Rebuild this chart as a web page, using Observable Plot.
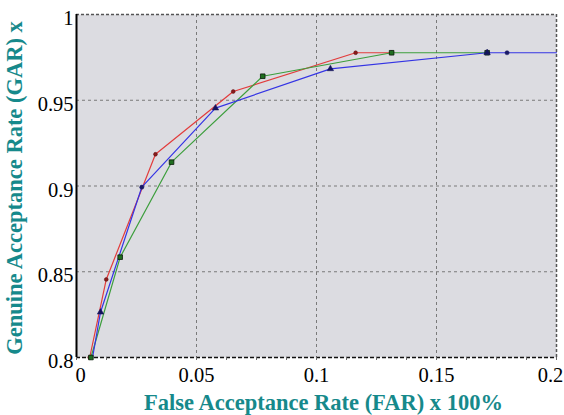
<!DOCTYPE html>
<html>
<head>
<meta charset="utf-8">
<script src="https://cdn.jsdelivr.net/npm/d3@7"></script>
<script src="https://cdn.jsdelivr.net/npm/@observablehq/plot@0.6"></script>
<style>
  html, body { margin: 0; padding: 0; background: #fff; }
</style>
</head>
<body>
<div id="chart"></div>
<script>
// ---- data ----
const xTicks = [0, 0.05, 0.1, 0.15, 0.2];
const yTicks = [0.8, 0.85, 0.9, 0.95, 1];
const xTitle = "False Acceptance Rate (FAR) x 100%";
const yTitle = "Genuine Acceptance Rate (GAR) x";

const redX = [0.0055, 0.0124, 0.0329, 0.0653, 0.1163, 0.1313];
const redY = [0.800, 0.8455, 0.9185, 0.9551, 0.9777, 0.9777];

const greenX = [0.006, 0.0182, 0.0396, 0.0776, 0.1313, 0.1711];
const greenY = [0.800, 0.8585, 0.9139, 0.9640, 0.9777, 0.9777];

const blueX = [0.0067, 0.0100, 0.0272, 0.0579, 0.1058, 0.1711, 0.1794, 0.2];
const blueY = [0.800, 0.8264, 0.8993, 0.9454, 0.9683, 0.9777, 0.9777, 0.9777];
const blueTriangleX = [0.0100, 0.0579, 0.1058, 0.1711];
const blueTriangleY = [0.8264, 0.9454, 0.9683, 0.9777];
const blueDotX = [0.0272, 0.1794];
const blueDotY = [0.8993, 0.9777];

const toPts = (xs, ys) => xs.map((x, i) => ({x, y: ys[i]}));
const red = toPts(redX, redY);
const green = toPts(greenX, greenY);
const blue = toPts(blueX, blueY);
const blueTri = toPts(blueTriangleX, blueTriangleY);
const blueDot = toPts(blueDotX, blueDotY);

const fmt = d => String(+d.toFixed(2));
const teal = "#16898b";
const serif = "Liberation Serif";
const xTickStyle = {tickSize: 0, tickPadding: 10, tickFormat: fmt, label: null, fill: "#000", fontSize: 20.5, fontFamily: serif};

const chart = Plot.plot({
  width: 564,
  height: 415,
  marginLeft: 76,
  marginRight: 8,
  marginTop: 14,
  marginBottom: 58,
  style: {fontFamily: serif, fontSize: "20px", background: "#fff", color: "#000"},
  x: {domain: [0, 0.2], axis: null},
  y: {domain: [0.8, 1], axis: null},
  marks: [
    Plot.frame({fill: "#dcdce1", stroke: null}),
    Plot.gridX(xTicks.slice(1, -1), {stroke: "#7a7a7a", strokeOpacity: 1, strokeDasharray: "3,3", strokeWidth: 1}),
    Plot.gridY(yTicks.slice(1, -1), {stroke: "#7a7a7a", strokeOpacity: 1, strokeDasharray: "3,3", strokeWidth: 1}),
    Plot.ruleY([1], {stroke: "#555", strokeDasharray: "3,2", strokeWidth: 1.5}),
    Plot.ruleX([0.2], {stroke: "#555", strokeDasharray: "3,2", strokeWidth: 1.5}),
    Plot.ruleY([0.8], {stroke: "#111", strokeDasharray: "4,2", strokeWidth: 1.6}),
    Plot.axisX({ticks: d3.range(0, 0.2001, 0.0125), tickSize: 3, text: null, label: null, stroke: "#666"}),
    Plot.ruleX([0], {stroke: "#000", strokeWidth: 2}),

    Plot.line(red, {x: "x", y: "y", stroke: "#e23c3c", strokeWidth: 1.2}),
    Plot.line(green, {x: "x", y: "y", stroke: "#3c9e3c", strokeWidth: 1.2}),
    Plot.line(blue, {x: "x", y: "y", stroke: "#3434e4", strokeWidth: 1.2}),

    Plot.dot(red, {x: "x", y: "y", r: 1.9, fill: "#8a1c1c", stroke: "#5a0a0a", strokeWidth: 0.5}),
    Plot.dot(green, {x: "x", y: "y", symbol: "square", r: 2.6, fill: "#1f6e1f", stroke: "#0a1a0a", strokeWidth: 0.8}),
    Plot.dot(blueTri, {x: "x", y: "y", symbol: "triangle", r: 2.4, fill: "#14145e", stroke: "#14145e", strokeWidth: 0.5}),
    Plot.dot(blueDot, {x: "x", y: "y", r: 2.1, fill: "#1a1a66", stroke: "#1a1a66", strokeWidth: 0.5}),

    Plot.axisX({...xTickStyle, ticks: xTicks.slice(0, 1), dx: 4}),
    Plot.axisX({...xTickStyle, ticks: xTicks.slice(1, -1)}),
    Plot.axisX({...xTickStyle, ticks: xTicks.slice(-1), dx: -6}),
    Plot.axisY({ticks: yTicks, tickSize: 0, tickPadding: 3, tickFormat: fmt, label: null, fill: "#000", dy: 4, fontSize: 20.5, fontFamily: serif}),

    Plot.text([xTitle], {frameAnchor: "bottom", dx: 7, dy: 45, lineAnchor: "middle", textAnchor: "middle", text: d => d,
      fill: teal, fontWeight: "bold", fontSize: 22.5, fontFamily: serif}),
    Plot.text([yTitle], {frameAnchor: "left", dx: -62, dy: 2, rotate: -90, lineAnchor: "middle", textAnchor: "middle", text: d => d,
      fill: teal, fontWeight: "bold", fontSize: 22.5, fontFamily: serif})
  ]
});
document.getElementById("chart").appendChild(chart);
</script>
</body>
</html>
